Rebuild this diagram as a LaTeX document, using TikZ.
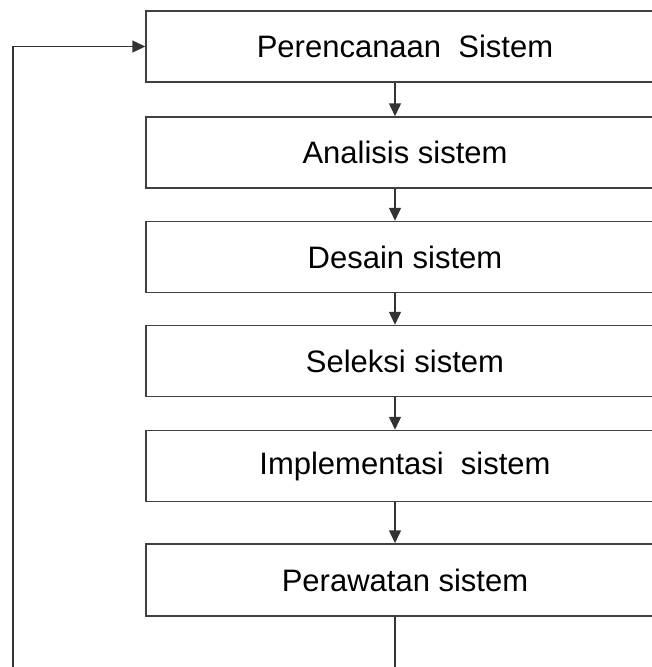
\documentclass[tikz,border=0pt]{standalone}
\usepackage{fontspec}
\setmainfont{Liberation Sans}
\usetikzlibrary{arrows.meta,positioning}
\tikzset {>={Triangle[length=13pt,width=12pt]}}
\tikzset{tahap/.style={draw=black!75,line width=1.5pt,minimum width=518pt,
    minimum height=71pt,inner sep=0pt,font=\fontsize{31}{37}\selectfont}}

\begin{document}
\begin{tikzpicture}[x=1pt,y=-1pt]
\useasboundingbox (0,0) rectangle (652,667);
\node[tahap] (b1) at (405,46.5) {Perencanaan\ \ Sistem};
\node[tahap] (b2) at (405,152.5) {Analisis sistem};
\node[tahap] (b3) at (405,257) {Desain sistem};
\node[tahap] (b4) at (405,361) {Seleksi sistem};
\node[tahap] (b5) at (405,466) {Implementasi\ \ sistem};
\node[tahap,minimum height=72pt] (b6) at (405,580) {Perawatan sistem};
\coordinate (kiri) at (13,700);
% panah antar tahap
\foreach \a/\b in {b1/b2,b2/b3,b3/b4,b4/b5,b5/b6}
  \draw[->,line width=1.5pt,draw=black!80]
    ([xshift=-10pt]\a.south) -- ([xshift=-10pt]\b.north);
% umpan balik ke perencanaan
\draw[->,line width=1.5pt,draw=black!80]
  ([xshift=-10pt]b6.south) |- (kiri) |- (b1.west);
\end{tikzpicture}
\end{document}
